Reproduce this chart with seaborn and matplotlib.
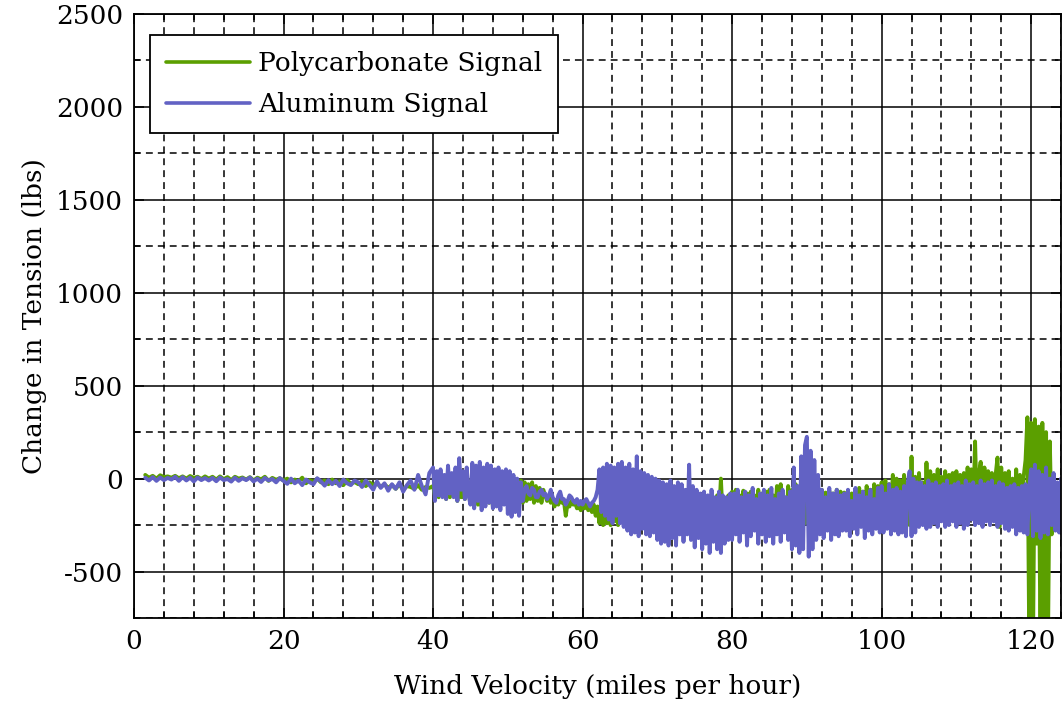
import numpy as np
import pandas as pd
import matplotlib
matplotlib.use("Agg")
import matplotlib.pyplot as plt
from matplotlib.ticker import MultipleLocator
import seaborn as sns

# wind velocity samples (mph): every 0.5 mph below 40, every 0.25 mph above
velocity_al = np.concatenate([np.arange(1.5, 40, 0.5), np.arange(40, 124.01, 0.25)])
velocity_pc = np.concatenate([np.arange(1.5, 40, 0.5), np.arange(40, 123.01, 0.25)])

# Aluminum signal, change in tension (lbs)
aluminum = [
    # 1.5 - 39.5, every 0.5 mph
    5, -10, 8, -12, 6, -8, 4,
    -5, 10, -12, 8, -10, 5, -15, 6, -8, 3,
    -10, 4, -14, 6, -8, -2, -16, 5, -12, 2,
    -8, 6, -15, 0, -18, 4, -10, -2, -20, 3,
    -12, -28, 0, -25, -10, -35, -5, -20, -30, 2,
    -15, -38, -8, -30, -12, -40, -5, -25, -35, -10,
    -20, -45, -10, -35, -60, -15, -50, -25, -65, -30,
    -55, -20, -70, -35, -10, -60, 20, -40, -85, 30,
    # 40 - 124, every 0.25 mph (rows of 5 mph)
    60, -120, 40, -90, 50, -100, 20, -110, 70, -80, 30, -100, 60, -120, 110, -60, 40, -110, 60, -90,
    -140, 85, -160, 70, -120, 90, -170, 60, -150, 80, -130, 70, -160, 50, -150, 60, -170, 40, -140, 50,
    -190, 40, -205, 20, -180, 0, -200, -20, -120, -60, -40, -80, -90, -50, -60, -100, -100, -70, -60, -90,
    -80, -110, -90, -60, -100, -120, -130, -90, -70, -110, -110, -140, -120, -90, -100, -120, -130, -110, -140, -120,
    -140, -120, -110, -130, -150, -130, -120, -100, -60, 50, -180, 60, -200, 80, -220, 70, -240, 60, -200, 80,
    -240, 90, -260, 60, -280, 80, -300, 50, -290, 120, -310, 40, -270, 30, -300, 20, -310, 10, -290, 0,
    -330, -10, -350, -20, -340, -30, -360, -10, -320, -40, -360, -20, -300, -30, -340, -60, -300, 75, -330, -40,
    -370, -60, -320, -80, -380, -70, -350, -90, -400, -60, -340, -100, -380, -70, -400, -90, -350, -100, -330, -80,
    -330, -80, -300, -60, -340, -100, -290, -70, -360, -90, -310, -50, -280, -110, -350, -80, -300, -60, -340, -90,
    -310, -50, -350, -110, -300, -80, -340, -60, -290, -100, -330, -70, -380, 60, -360, -40, -400, 120, -380, 180,
    225, -420, 150, -380, 100, -330, 20, -300, -60, -320, -100, -280, -50, -330, -80, -300, -60, -310, -90, -280,
    -80, -280, -60, -310, -120, -270, -50, -300, -90, -260, -70, -320, -100, -280, -60, -300, -110, -270, -50, -290,
    -40, -290, -80, -270, -30, -300, -60, -280, -50, -300, -70, -290, -40, -310, -20, 40, -310, 0, -290, -20,
    -260, -20, -250, -40, -270, -10, -260, -30, -240, -20, -260, -40, -230, -30, -260, -10, -250, -40, -230, -30,
    -260, -20, -240, -40, -270, -10, -250, -30, -220, -20, -250, -40, -240, -10, -260, -30, -230, -20, -250, -10,
    -230, -40, -260, -20, -240, -30, -270, -50, -280, -40, -260, -30, -300, -50, -280, -40, -290, -30, -300, -50,
    50, -310, 75, -280, 40, -320, 20, -290, 60, -300, 0, -250, 30, -280, -20, -290, 0,
]

# Polycarbonate signal, change in tension (lbs)
polycarbonate = [
    # 1.5 - 39.5, every 0.5 mph
    20, 5, 15, 0, 18, 8, 12,
    5, 15, 2, 12, 0, 14, 4, 10, -2, 12,
    0, 10, -5, 12, -3, 8, -8, 10, 0, 6,
    -5, 8, -10, 5, -4, 10, -12, 4, -6, 2,
    -10, 0, -20, -5, -15, 5, -25, -8, -18, 0,
    -20, -10, -30, -5, -25, -15, -35, -8, -28, -18,
    -30, -15, -40, -20, -35, -25, -45, -30, -50, -35,
    -55, -30, -60, -40, -45, -55, -35, -60, -45, -50,
    # 40 - 123, every 0.25 mph (rows of 5 mph)
    -40, -90, 20, -100, 30, -80, 10, -110, 40, -100, 0, -90, 30, -120, 20, -100, 10, -110, 30, -80,
    -120, 40, -130, 50, -140, 30, -150, 40, -120, 20, -130, 30, -150, 10, -140, 20, -120, 0, -100, -20,
    -100, -10, -130, 0, -120, -20, -110, -10, -130, -20, -120, -30, -110, -20, -130, -40, -120, -50, -130, -60,
    -90, -120, -100, -130, -110, -150, -120, -140, -110, -130, -120, -200, -130, -150, -120, -140, -130, -160, -140, -170,
    -140, -160, -130, -170, -150, -180, -140, -200, -150, -240, -130, -250, -160, -240, -150, -250, -170, -230, -160, -250,
    -180, -80, -230, -60, -200, -100, -220, -80, -240, -60, -200, -100, -230, -80, -240, -90, -220, -100, -240, -120,
    -100, -250, -130, -220, -90, -260, -120, -240, -140, -230, -100, -250, -110, -260, -140, -240, -120, -260, -100, -230,
    -120, -210, -90, -200, -110, -220, -100, -200, -130, -220, -110, -200, -90, -210, 0, -220, -110, -200, -90, -210,
    -70, -200, -60, -220, -90, -180, -65, -240, -80, -200, -70, -230, -90, -180, -60, -210, -80, -220, -70, -200,
    -60, -230, -90, -210, -40, -250, -30, -200, -100, -260, -40, -220, -60, -240, -30, -200, -80, -230, -60, -240,
    -80, -230, -60, -250, -70, -220, -85, -260, -60, -240, -75, -230, -65, -250, -80, -220, -60, -240, -70, -230,
    -75, -230, -65, -250, -80, -220, -60, -240, -50, -210, -70, -230, -40, -250, -60, -220, -30, -200, -40, -210,
    -20, -200, -10, -230, -30, -180, 20, -240, 0, -220, -10, -230, 20, -200, -20, -250, 118, -250, 10, -230,
    30, -150, -20, -240, 86, -200, 40, -230, 20, -180, 50, -220, 10, -200, 40, -230, 20, -200, 30, -220,
    40, -220, 20, -200, 30, -240, 60, -180, 50, -200, 200, -180, 20, 90, -250, 60, -200, 40, -230, 30,
    -200, 20, 113, -260, 60, -220, 30, -250, 40, -230, 0, -250, 50, -200, 20, -240, 10, 100, 330, -900,
    300, -900, 320, -350, 280, -900, 300, -900, 250, -900, 200, -300, -200,
]

x_ticks = [0, 20, 40, 60, 80, 100, 120]
y_ticks = [-500, 0, 500, 1000, 1500, 2000, 2500]

GREEN = "#5b9f00"
BLUE = "#6262c4"


def plot_signals():
    sns.set_style("ticks")
    plt.rcParams["font.family"] = ["DejaVu Serif"]
    plt.rcParams["font.size"] = 19
    plt.rcParams["axes.unicode_minus"] = False
    plt.rcParams["text.color"] = "black"
    plt.rcParams["axes.labelcolor"] = "black"

    fig = plt.figure(figsize=(10.62, 7.05), dpi=100)
    ax = fig.add_axes([0.1262, 0.1234, 0.8729, 0.8567])

    pc = pd.DataFrame({"v": velocity_pc, "t": polycarbonate})
    al = pd.DataFrame({"v": velocity_al, "t": aluminum})
    sns.lineplot(data=pc, x="v", y="t", ax=ax, color=GREEN, lw=2.8,
                 estimator=None, sort=False, label="Polycarbonate Signal")
    sns.lineplot(data=al, x="v", y="t", ax=ax, color=BLUE, lw=2.8,
                 estimator=None, sort=False, label="Aluminum Signal")

    ax.set_xlim(0, 124)
    ax.set_ylim(-750, 2500)
    ax.set_xticks(x_ticks)
    ax.set_yticks(y_ticks)
    ax.xaxis.set_minor_locator(MultipleLocator(4))
    ax.yaxis.set_minor_locator(MultipleLocator(250))

    ax.set_axisbelow(True)
    ax.grid(which="major", color="black", lw=1.1, ls="-")
    ax.grid(which="minor", color="black", lw=1.1, ls=(0, (4.5, 3.3)))
    ax.tick_params(which="both", direction="in", top=True, right=True,
                   colors="black", labelsize=19, width=1.1)
    ax.tick_params(which="major", length=7, pad=8)
    ax.tick_params(which="minor", length=4)
    for s in ax.spines.values():
        s.set_color("black")
        s.set_linewidth(1.3)

    ax.set_xlabel("Wind Velocity (miles per hour)", fontsize=19, labelpad=14)
    ax.set_ylabel("Change in Tension (lbs)", fontsize=19, labelpad=6)

    leg = ax.legend(loc="upper left", bbox_to_anchor=(0.017, 0.965),
                    fontsize=19, frameon=True, fancybox=False,
                    framealpha=1, edgecolor="black", handlelength=3.2,
                    handletextpad=0.3, labelspacing=0.6, borderpad=0.6,
                    borderaxespad=0)
    leg.get_frame().set_linewidth(1.3)
    for line in leg.get_lines():
        line.set_linewidth(2.6)

    fig.savefig("out.png", dpi=100)


def main():
    plot_signals()


if __name__ == "__main__":
    main()
